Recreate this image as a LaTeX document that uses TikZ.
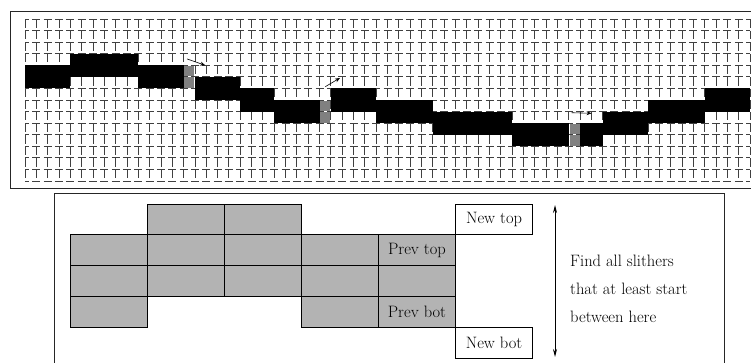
\documentclass[tikz,border=0pt]{standalone}
\usepackage{xcolor}
\usepackage{tikz}
\usetikzlibrary{arrows.meta,positioning}
\definecolor{cellgray}{HTML}{B3B3B3}
\definecolor{slithergray}{HTML}{808080}
\tikzset{
 gridv/.style={black!75,line width=0.9pt,dash pattern=on 8.6pt off 3pt},
 gridh/.style={black!75,line width=0.9pt,dash pattern=on 8pt off 3.33pt,dash phase=4pt},
 frame/.style={line width=0.9pt,black!85},
 cell/.style={draw,line width=0.8pt,fill=cellgray,minimum width=77.1pt,minimum height=30.8pt,inner sep=0pt,font=\fontsize{16.5}{20}\selectfont},
 newcell/.style={cell,fill=white},
 hop/.style={-{Stealth[length=5pt,width=4pt]},line width=0.6pt}
}

\begin{document}
\begin{tikzpicture}[x=1pt,y=-1pt]
 \useasboundingbox (0,0) rectangle (751,362);
 % upper panel: the grid of cells with the slither
 \draw[frame] (10,11) rectangle (760,188);
 \begin{scope}[shift={(25,19)},x=11.33pt,y=-11.57pt]
  \foreach \c in {0,...,64}{\draw[gridv] (\c,0) -- (\c,14);}
  \foreach \r in {0,...,14}{\draw[gridh] (0,\r) -- (64,\r);}
  \foreach \a/\b/\r in {0/3/4,4/9/3,10/13/4,15/18/5,19/21/6,22/25/7,27/30/6,31/35/7,36/42/8,43/47/9,49/50/9,51/54/8,55/59/7,60/63/6}{\fill (\a,\r) rectangle (\b+1,\r+2);}
  \foreach \c/\r in {14/4,26/7,48/9}{
   \fill[slithergray] (\c+0.06,\r+0.05) rectangle (\c+0.94,\r+0.95);
   \fill[slithergray] (\c+0.06,\r+1.05) rectangle (\c+0.94,\r+1.95);}
  \coordinate (hopA0) at (14.3,3.45); \coordinate (hopA1) at (15.9,4.0);
  \coordinate (hopB0) at (26.5,5.85); \coordinate (hopB1) at (27.8,5.1);
  \coordinate (hopC0) at (48.25,8.1); \coordinate (hopC1) at (50.0,8.15);
  \draw[hop] (hopA0) -- (hopA1); \draw[hop] (hopB0) -- (hopB1); \draw[hop] (hopC0) -- (hopC1);
 \end{scope}
 % lower panel: previous and new top / bottom
 \draw[frame] (54,193) rectangle (724,372);
 \foreach \c/\r in {1/0,2/0,0/1,1/1,2/1,3/1,0/2,1/2,2/2,3/2,4/2,0/3,3/3}{\node[cell] (cell\c\r) at ({108.55+77.1*\c},{219.4+30.8*\r}) {};}
 \node[cell] (prevtop) at ({108.55+77.1*4},{219.4+30.8}) {Prev top};
 \node[cell] (prevbot) at ({108.55+77.1*4},{219.4+30.8*3}) {Prev bot};
 \node[newcell] (newtop) at ({108.55+77.1*5},219.4) {New top};
 \node[newcell] (newbot) at ({108.55+77.1*5},{219.4+30.8*4}) {New bot};
 \coordinate (spanTop) at (555,205); \coordinate (spanBot) at (555,357);
 \draw[{Stealth[length=8pt,width=4pt]}-{Stealth[length=8pt,width=4pt]},line width=0.9pt] (spanTop) -- (spanBot);
 \node[anchor=west,align=left,inner sep=0pt,font=\fontsize{16.5}{27.7}\selectfont] (note) at (570,289) {Find all slithers\\that at least start\\between here};
\end{tikzpicture}
\end{document}
